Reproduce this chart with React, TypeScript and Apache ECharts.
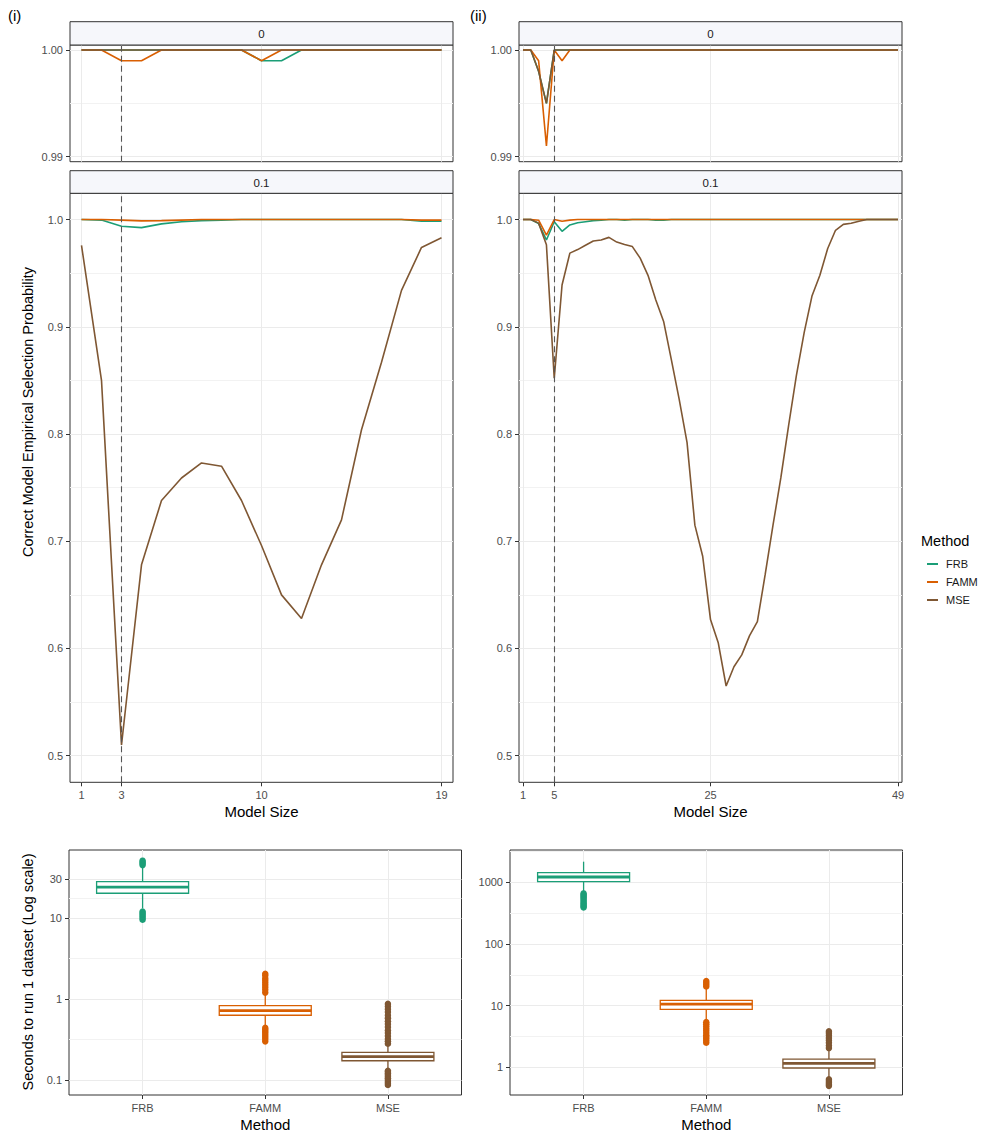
import React, { useEffect, useRef } from 'react';
import * as echarts from 'echarts';

const METHODS = ['FRB', 'FAMM', 'MSE'];
const METHOD_COLORS = ['#1B9E77', '#D95F02', '#7F5733'];
const FONT = '"Liberation Sans", Arial, Helvetica, sans-serif';
const AXIS_TEXT = '#4D4D4D';
const BORDER = '#333333';

// ---------- x values ----------
const modelSizeI = [1, 2, 3, 4, 5, 6, 7, 8, 9, 10, 11, 12, 13, 14, 15, 16, 17, 18, 19];
const modelSizeII = [1, 2, 3, 4, 5, 6, 7, 8, 9, 10, 11, 12, 13, 14, 15, 16, 17, 18, 19, 20, 21, 22, 23, 24, 25,
  26, 27, 28, 29, 30, 31, 32, 33, 34, 35, 36, 37, 38, 39, 40, 41, 42, 43, 44, 45, 46, 47, 48, 49];
const xTicksI = [1, 3, 10, 19];
const xTicksII = [1, 5, 25, 49];
const trueSizeI = 3;
const trueSizeII = 5;
const facetLabels = ['0', '0.1'];

// ---------- y ticks ----------
const yTicksZero = [0.99, 1.0];
const yMinorZero = [0.995];
const yTicksTenth = [0.5, 0.6, 0.7, 0.8, 0.9, 1.0];
const yMinorTenth = [0.55, 0.65, 0.75, 0.85, 0.95];

// ---------- (i) facet "0" ----------
const frbI0 = [1, 1, 1, 1, 1, 1, 1, 1, 1, 0.999, 0.999, 1, 1, 1, 1, 1, 1, 1, 1];
const fammI0 = [1, 1, 0.999, 0.999, 1, 1, 1, 1, 1, 0.999, 1, 1, 1, 1, 1, 1, 1, 1, 1];
const mseI0 = [1, 1, 1, 1, 1, 1, 1, 1, 1, 1, 1, 1, 1, 1, 1, 1, 1, 1, 1];

// ---------- (i) facet "0.1" ----------
const frbI1 = [1, 0.9995, 0.9938, 0.9925, 0.996, 0.998, 0.999, 0.9995, 1, 1, 1, 1, 1, 1, 1, 1, 1, 0.9985, 0.9985];
const fammI1 = [1, 1, 0.9995, 0.9988, 0.999, 0.9995, 1, 1, 1, 1, 1, 1, 1, 1, 1, 1, 1, 0.9995, 0.9995];
const mseI1 = [0.976, 0.85, 0.51, 0.678, 0.738, 0.759, 0.773, 0.77, 0.738, 0.696, 0.65, 0.628, 0.678, 0.72,
  0.804, 0.867, 0.934, 0.974, 0.983];

// ---------- (ii) facet "0" ----------
const frbII0 = [1, 1, 0.998, 0.995, 1, 1, 1, 1, 1, 1, 1, 1, 1, 1, 1, 1, 1, 1, 1, 1, 1, 1, 1, 1, 1,
  1, 1, 1, 1, 1, 1, 1, 1, 1, 1, 1, 1, 1, 1, 1, 1, 1, 1, 1, 1, 1, 1, 1, 1];
const fammII0 = [1, 1, 0.999, 0.991, 1, 0.999, 1, 1, 1, 1, 1, 1, 1, 1, 1, 1, 1, 1, 1, 1, 1, 1, 1, 1, 1,
  1, 1, 1, 1, 1, 1, 1, 1, 1, 1, 1, 1, 1, 1, 1, 1, 1, 1, 1, 1, 1, 1, 1, 1];
const mseII0 = [1, 1, 0.998, 0.995, 1, 1, 1, 1, 1, 1, 1, 1, 1, 1, 1, 1, 1, 1, 1, 1, 1, 1, 1, 1, 1,
  1, 1, 1, 1, 1, 1, 1, 1, 1, 1, 1, 1, 1, 1, 1, 1, 1, 1, 1, 1, 1, 1, 1, 1];

// ---------- (ii) facet "0.1" ----------
const frbII1 = [1, 1, 0.9963, 0.981, 0.998, 0.989, 0.995, 0.997, 0.998, 0.999, 0.9993, 1, 1, 0.9995, 1, 1, 1,
  0.9995, 0.9995, 1, 1, 1, 1, 1, 1, 1, 1, 1, 1, 1, 1, 1, 1, 1, 1, 1, 1, 1, 1, 1, 1, 1, 1, 1, 1, 1, 1, 1, 1];
const fammII1 = [1, 1, 0.9994, 0.9855, 1, 0.9985, 0.9995, 1, 1, 1, 1, 1, 1, 1, 1, 1, 1, 1, 1, 1, 1, 1, 1, 1, 1,
  1, 1, 1, 1, 1, 1, 1, 1, 1, 1, 1, 1, 1, 1, 1, 1, 1, 1, 1, 1, 1, 1, 1, 1];
const mseII1 = [1, 1, 0.9967, 0.9765, 0.852, 0.939, 0.9687, 0.972, 0.976, 0.98, 0.981, 0.9834, 0.979, 0.9767,
  0.9748, 0.964, 0.948, 0.925, 0.905, 0.869, 0.832, 0.792, 0.715, 0.686, 0.627, 0.605, 0.565, 0.583, 0.594,
  0.612, 0.625, 0.669, 0.715, 0.759, 0.808, 0.855, 0.895, 0.929, 0.948, 0.973, 0.99, 0.9955, 0.9965, 0.9985,
  1, 1, 1, 1, 1];

// ---------- run times (seconds): [lower whisker, Q1, median, Q3, upper whisker] ----------
const boxFrbI = [13.2, 20.2, 24.1, 28.1, 43];
const boxFammI = [0.455, 0.63, 0.717, 0.83, 1.15];
const boxMseI = [0.135, 0.173, 0.194, 0.22, 0.278];
const outFrbI = [9.5, 10, 10.5, 11, 11.5, 12, 45, 47, 49, 51];
const outFammI = [0.3, 0.32, 0.34, 0.36, 0.38, 0.4, 0.42, 0.44, 1.2, 1.3, 1.4, 1.5, 1.6, 1.7, 1.8, 1.95, 2.05];
const outMseI = [0.087, 0.091, 0.095, 0.1, 0.105, 0.11, 0.115, 0.12, 0.126, 0.13, 0.28, 0.3, 0.32, 0.35, 0.38,
  0.41, 0.45, 0.49, 0.53, 0.58, 0.63, 0.69, 0.75, 0.81, 0.87];

const boxFrbII = [705, 1023, 1219, 1432, 2158];
const boxFammII = [5.85, 8.71, 10.6, 12.2, 18.6];
const boxMseII = [0.69, 0.975, 1.16, 1.36, 2.0];
const outFrbII = [390, 410, 430, 455, 480, 510, 540, 570, 600, 630, 660];
const outFammII = [2.5, 2.7, 2.9, 3.1, 3.3, 3.6, 3.9, 4.2, 4.6, 5.0, 5.4, 20.5, 22, 23.5, 25];
const outMseII = [0.5, 0.53, 0.56, 0.6, 0.64, 2.05, 2.25, 2.5, 2.75, 3.0, 3.3, 3.6, 3.85];

const timeTicksI = [0.1, 1, 10, 30];
const timeMinorLogI = [-0.5, 0.5, 1.2386];
const timeTicksII = [1, 10, 100, 1000];
const timeMinorLogII = [0.5, 1.5, 2.5, 3.5];

// ---------- layout ----------
const GRIDS = [
  { left: 70, top: 45, width: 383, height: 116.7 },
  { left: 70, top: 193.3, width: 383, height: 589 },
  { left: 519, top: 45, width: 383, height: 116.7 },
  { left: 519, top: 193.3, width: 383, height: 589 },
  { left: 69, top: 850, width: 392.5, height: 245 },
  { left: 510, top: 850, width: 392.5, height: 245 },
];

const lg = (v: number) => Math.log10(v);

function yAxes(gridIndex: number, min: number, max: number, majors: number[], minors: number[], fmt: (v: number) => string) {
  return [
    {
      type: 'value', gridIndex, min, max, position: 'left',
      axisLine: { show: false, onZero: false },
      axisTick: { show: true, length: 4, lineStyle: { color: BORDER, width: 1 }, customValues: majors },
      axisLabel: { show: true, customValues: majors, formatter: fmt, color: AXIS_TEXT, fontSize: 11, fontFamily: FONT, margin: 7 },
      splitLine: { show: true, lineStyle: { color: '#EBEBEB', width: 1 } },
      minorTick: { show: false }, minorSplitLine: { show: false },
    },
    {
      type: 'value', gridIndex, min, max, position: 'left',
      axisLine: { show: false, onZero: false },
      axisTick: { show: false, customValues: minors },
      axisLabel: { show: false, customValues: minors },
      splitLine: { show: true, lineStyle: { color: '#F2F2F2', width: 1 } },
    },
  ];
}

function xAxis(gridIndex: number, min: number, max: number, ticks: number[], showLabels: boolean, fmt: (v: number) => string) {
  return {
    type: 'value', gridIndex, min, max, position: 'bottom',
    axisLine: { show: false, onZero: false },
    axisTick: { show: showLabels, length: 4, lineStyle: { color: BORDER, width: 1 }, customValues: ticks },
    axisLabel: { show: showLabels, customValues: ticks, formatter: fmt, color: AXIS_TEXT, fontSize: 11, fontFamily: FONT, margin: 7 },
    splitLine: { show: true, lineStyle: { color: '#EBEBEB', width: 1 } },
  };
}

function lineSeries(name: string, color: string, xs: number[], ys: number[], xi: number, yi: number, vline?: number) {
  const s: any = {
    type: 'line', name, xAxisIndex: xi, yAxisIndex: yi,
    data: xs.map((x, i) => [x, ys[i]]),
    showSymbol: false, symbol: 'none', silent: true,
    lineStyle: { color, width: 1.6 }, itemStyle: { color },
    emphasis: { disabled: true },
  };
  if (vline !== undefined) {
    s.markLine = {
      silent: true, symbol: 'none', label: { show: false },
      lineStyle: { type: [6, 4], color: '#555555', width: 1.1 },
      emphasis: { disabled: true },
      data: [{ xAxis: vline }],
    };
  }
  return s;
}

function boxSeries(xi: number, yi: number, boxes: number[][]) {
  return {
    type: 'custom', name: 'box' + xi, xAxisIndex: xi, yAxisIndex: yi, silent: true,
    data: boxes.map((b, i) => [i + 1, lg(b[0]), lg(b[1]), lg(b[2]), lg(b[3]), lg(b[4])]),
    encode: { x: 0, y: [1, 2, 3, 4, 5] },
    renderItem: (params: any, api: any) => {
      const x = api.value(0);
      const lo = api.coord([x, api.value(1)]);
      const q1 = api.coord([x, api.value(2)]);
      const med = api.coord([x, api.value(3)]);
      const q3 = api.coord([x, api.value(4)]);
      const hi = api.coord([x, api.value(5)]);
      const half = api.size([0.75, 0])[0] / 2;
      const color = METHOD_COLORS[params.dataIndex];
      const st = { stroke: color, lineWidth: 1.3, fill: 'none' };
      return {
        type: 'group',
        children: [
          { type: 'line', shape: { x1: lo[0], y1: lo[1], x2: lo[0], y2: q1[1] }, style: st },
          { type: 'line', shape: { x1: hi[0], y1: q3[1], x2: hi[0], y2: hi[1] }, style: st },
          { type: 'rect', shape: { x: q3[0] - half, y: q3[1], width: 2 * half, height: q1[1] - q3[1] }, style: { stroke: color, lineWidth: 1.3, fill: '#ffffff' } },
          { type: 'line', shape: { x1: med[0] - half, y1: med[1], x2: med[0] + half, y2: med[1] }, style: { stroke: color, lineWidth: 2.8 } },
        ],
      };
    },
  };
}

function outlierSeries(name: string, color: string, idx: number, vals: number[], xi: number, yi: number) {
  return {
    type: 'scatter', name, xAxisIndex: xi, yAxisIndex: yi, silent: true,
    symbol: 'circle', symbolSize: 6.5,
    itemStyle: { color, opacity: 1 },
    emphasis: { disabled: true },
    data: vals.map((v) => [idx, lg(v)]),
  };
}

function text(t: string, x: number, y: number, size: number, color: string, align = 'center', rotation = 0) {
  return {
    type: 'text', x, y, rotation, z: 100,
    style: {
      text: t, fill: color, fontSize: size, fontFamily: FONT,
      align, verticalAlign: 'middle', textAlign: align, textVerticalAlign: 'middle',
    },
  };
}

function strip(label: string, left: number, top: number, width: number, height: number) {
  return [
    { type: 'rect', z: 90, shape: { x: left, y: top, width, height }, style: { fill: '#F6F7FB', stroke: BORDER, lineWidth: 1 } },
    text(label, left + width / 2, top + height / 2 + 0.5, 11.5, '#1A1A1A'),
  ];
}

function buildOption() {
  const fmt2 = (v: number) => v.toFixed(2);
  const fmt1 = (v: number) => v.toFixed(1);
  const fmtInt = (v: number) => String(v);
  const fmtTime = (v: number) => String(Number(Math.pow(10, v).toPrecision(2)));
  const fmtMethod = (v: number) => METHODS[Math.round(v) - 1] || '';

  const xAxes = [
    xAxis(0, 0.425, 19.575, xTicksI, false, fmtInt),
    xAxis(1, 0.425, 19.575, xTicksI, true, fmtInt),
    xAxis(2, 0.49, 49.51, xTicksII, false, fmtInt),
    xAxis(3, 0.49, 49.51, xTicksII, true, fmtInt),
    xAxis(4, 0.4, 3.6, [1, 2, 3], true, fmtMethod),
    xAxis(5, 0.4, 3.6, [1, 2, 3], true, fmtMethod),
  ];
  const yAxesAll = [
    ...yAxes(0, 0.98953, 1.00047, yTicksZero, yMinorZero, fmt2),
    ...yAxes(1, 0.4752, 1.0245, yTicksTenth, yMinorTenth, fmt1),
    ...yAxes(2, 0.98953, 1.00047, yTicksZero, yMinorZero, fmt2),
    ...yAxes(3, 0.4752, 1.0245, yTicksTenth, yMinorTenth, fmt1),
    ...yAxes(4, -1.185, 1.8395, timeTicksI.map(lg), timeMinorLogI, fmtTime),
    ...yAxes(5, -0.449, 3.5236, timeTicksII.map(lg), timeMinorLogII, fmtTime),
  ];

  const panels = [
    { g: 0, xs: modelSizeI, data: [frbI0, fammI0, mseI0], vline: trueSizeI },
    { g: 1, xs: modelSizeI, data: [frbI1, fammI1, mseI1], vline: trueSizeI },
    { g: 2, xs: modelSizeII, data: [frbII0, fammII0, mseII0], vline: trueSizeII },
    { g: 3, xs: modelSizeII, data: [frbII1, fammII1, mseII1], vline: trueSizeII },
  ];
  const series: any[] = [];
  panels.forEach((p) => {
    p.data.forEach((ys, m) => {
      series.push(lineSeries(METHODS[m], METHOD_COLORS[m], p.xs, ys, p.g, p.g * 2, m === 2 ? p.vline : undefined));
    });
  });
  const boxPanels = [
    { g: 4, boxes: [boxFrbI, boxFammI, boxMseI], outs: [outFrbI, outFammI, outMseI] },
    { g: 5, boxes: [boxFrbII, boxFammII, boxMseII], outs: [outFrbII, outFammII, outMseII] },
  ];
  boxPanels.forEach((p) => {
    p.outs.forEach((o, m) => {
      series.push(outlierSeries(METHODS[m] + ' outliers ' + p.g, METHOD_COLORS[m], m + 1, o, p.g, p.g * 2));
    });
    series.push(boxSeries(p.g, p.g * 2, p.boxes));
  });

  const graphic: any[] = [
    ...strip(facetLabels[0], 70, 21.7, 383, 23.3),
    ...strip(facetLabels[1], 70, 170.7, 383, 22.6),
    ...strip(facetLabels[0], 519, 21.7, 383, 23.3),
    ...strip(facetLabels[1], 519, 170.7, 383, 22.6),
    text('(i)', 8, 15, 15, '#000000', 'left'),
    text('(ii)', 470, 15, 15, '#000000', 'left'),
    text('Correct Model Empirical Selection Probability', 28, 412, 14.5, '#000000', 'center', Math.PI / 2),
    text('Model Size', 261.5, 811, 15, '#000000'),
    text('Model Size', 710.5, 811, 15, '#000000'),
    text('Seconds to run 1 dataset (Log scale)', 28, 972, 14.5, '#000000', 'center', Math.PI / 2),
    text('Method', 265.3, 1124, 15, '#000000'),
    text('Method', 706.3, 1124, 15, '#000000'),
    text('Method', 921, 541, 14.5, '#000000', 'left'),
  ];

  return {
    animation: false,
    textStyle: { fontFamily: FONT },
    grid: GRIDS.map((g) => ({
      ...g, show: true, borderColor: BORDER, borderWidth: 1, backgroundColor: 'transparent',
      containLabel: false, outerBoundsMode: 'none',
    })),
    xAxis: xAxes,
    yAxis: yAxesAll,
    legend: {
      data: METHODS, orient: 'vertical', left: 922, top: 552,
      itemWidth: 11, itemHeight: 2, itemGap: 4, icon: 'rect', selectedMode: false,
      textStyle: { fontSize: 11, color: '#1A1A1A', fontFamily: FONT, lineHeight: 14, padding: [0, 0, 0, 3] },
    },
    series,
    graphic,
  };
}

export default function App() {
  const ref = useRef<HTMLDivElement>(null);
  useEffect(() => {
    document.body.style.margin = '0';
    const chart = echarts.init(ref.current as HTMLDivElement, null, { renderer: 'svg' });
    chart.setOption(buildOption() as any);
    return () => chart.dispose();
  }, []);
  return <div ref={ref} style={{ width: 986, height: 1135 }} />;
}
